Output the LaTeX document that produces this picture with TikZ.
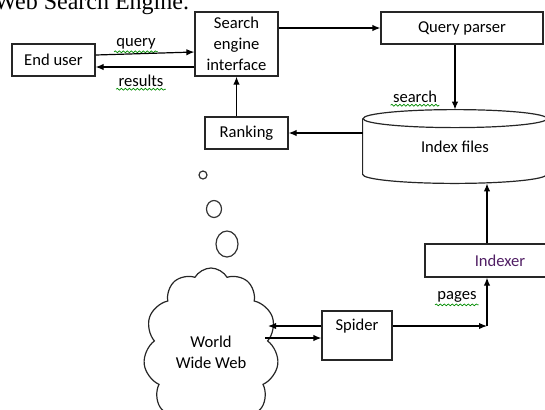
\documentclass[tikz,border=0pt]{standalone}
\usepackage{fontspec}
\usepackage{tikz}
\usetikzlibrary{arrows.meta,positioning,calc,shapes.symbols,decorations.pathmorphing}
\newfontfamily\carlito{Carlito}
\newfontfamily\timesfont{Liberation Serif}
\newcommand{\wordfont}{\carlito\fontsize{8.3}{10.5}\selectfont}
\definecolor{inkpurple}{RGB}{80,30,100}
\tikzset{
  box/.style={draw=black!85, line width=0.6pt, align=center, inner sep=2pt, font=\wordfont},
  lbl/.style={inner sep=1pt, font=\wordfont},
  arrow/.style={-{Latex[length=4pt,width=3.2pt]}, line width=0.6pt},
  squiggle/.style={draw=green!55!black, line width=0.35pt, decorate, decoration={snake, amplitude=0.45pt, segment length=2pt}},
  bubble/.style={draw=black!80, line width=0.6pt}
}

\begin{document}
\begin{tikzpicture}[x=0.5pt, y=-0.5pt]
\useasboundingbox (0,0) rectangle (545,409);
\clip (0,0) rectangle (545,409);
\node[anchor=base west, inner sep=0pt, font=\timesfont\fontsize{12}{14}\selectfont] (title) at (-6,9.5) {Web Search Engine.};
\node[box, minimum width=41.5pt, minimum height=16pt] (user) at (53.5,60) {End user};
\node[box, minimum width=41.5pt, minimum height=32pt] (sei) at (236.5,44) {Search\\engine\\interface};
\node[box, minimum width=81pt, minimum height=16pt] (parser) at (462,28) {Query parser};
\node[box, minimum width=41.5pt, minimum height=16pt] (rank) at (246.5,133) {Ranking};
\node[minimum width=92pt, minimum height=36.5pt, font=\wordfont] (files) at (455,146.5) {Index files};
\node[box, minimum width=75pt, minimum height=16.5pt, text=inkpurple] (indexer) at (500,260.5) {Indexer};
\node[box, minimum width=35pt, minimum height=24.5pt] (spider) at (357,335.5) {Spider\\~};
\node[cloud, draw=black!85, line width=0.6pt, cloud puffs=11, cloud puff arc=120, cloud ignores aspect, minimum width=67.5pt, minimum height=84pt, inner sep=0pt, align=center, font=\wordfont] (www) at (211,352) {World\\Wide Web};
\node[lbl] (qlbl) at (136,44) {query};
\node[lbl] (rlbl) at (141,81) {results};
\node[lbl] (slbl) at (415,97) {search};
\node[lbl] (plbl) at (457,297) {pages};
\foreach \l in {qlbl,rlbl,slbl,plbl}
  \draw[squiggle] (\l.south west) -- (\l.south east);
\draw[line width=0.6pt, draw=black!85] ([yshift=-4.5pt]files.north west) -- ([yshift=4.5pt]files.south west)
  arc[start angle=180, end angle=360, x radius=46pt, y radius=4.5pt] -- ([yshift=-4.5pt]files.north east);
\draw[line width=0.6pt, draw=black!85] ([yshift=-4.5pt]files.north) ellipse[x radius=46pt, y radius=4.5pt];
\draw[bubble] (203,175) circle[radius=2pt];
\draw[bubble] (214,209) ellipse[x radius=3.75pt, y radius=4.25pt];
\draw[bubble] (227,244) ellipse[x radius=5.5pt, y radius=6.5pt];
\draw[arrow] ([yshift=2.5pt]user.east) -- ([yshift=-4pt]sei.west);
\draw[arrow] ([yshift=-11.5pt]sei.west) -- ([yshift=-3.5pt]user.east);
\draw[arrow] (sei.east |- parser.west) -- (parser.west);
\draw[arrow] (parser.south -| files.north) -- (files.north);
\draw[arrow] (files.west |- rank.east) -- (rank.east);
\draw[arrow] (rank.north -| sei.south) -- (sei.south);
\coordinate (sout) at ([yshift=4.75pt]spider.east);
\coordinate (iin) at ([xshift=-6.5pt]indexer.south);
\coordinate (iout) at ([xshift=-6.5pt]indexer.north);
\coordinate (sback) at ([yshift=4.75pt]spider.west);
\coordinate (sin) at ([yshift=-1.25pt]spider.west);
\draw[arrow, shorten >=28.5pt] (sback) -- (sback -| www.center);
\draw[arrow, shorten <=27pt] (sin -| www.center) -- (sin);
\draw[arrow] (sout) -- (sout -| iin);
\draw[arrow] (sout -| iin) -- (iin);
\draw[arrow] (iout) -- (iout |- files.south);
\end{tikzpicture}
\end{document}
